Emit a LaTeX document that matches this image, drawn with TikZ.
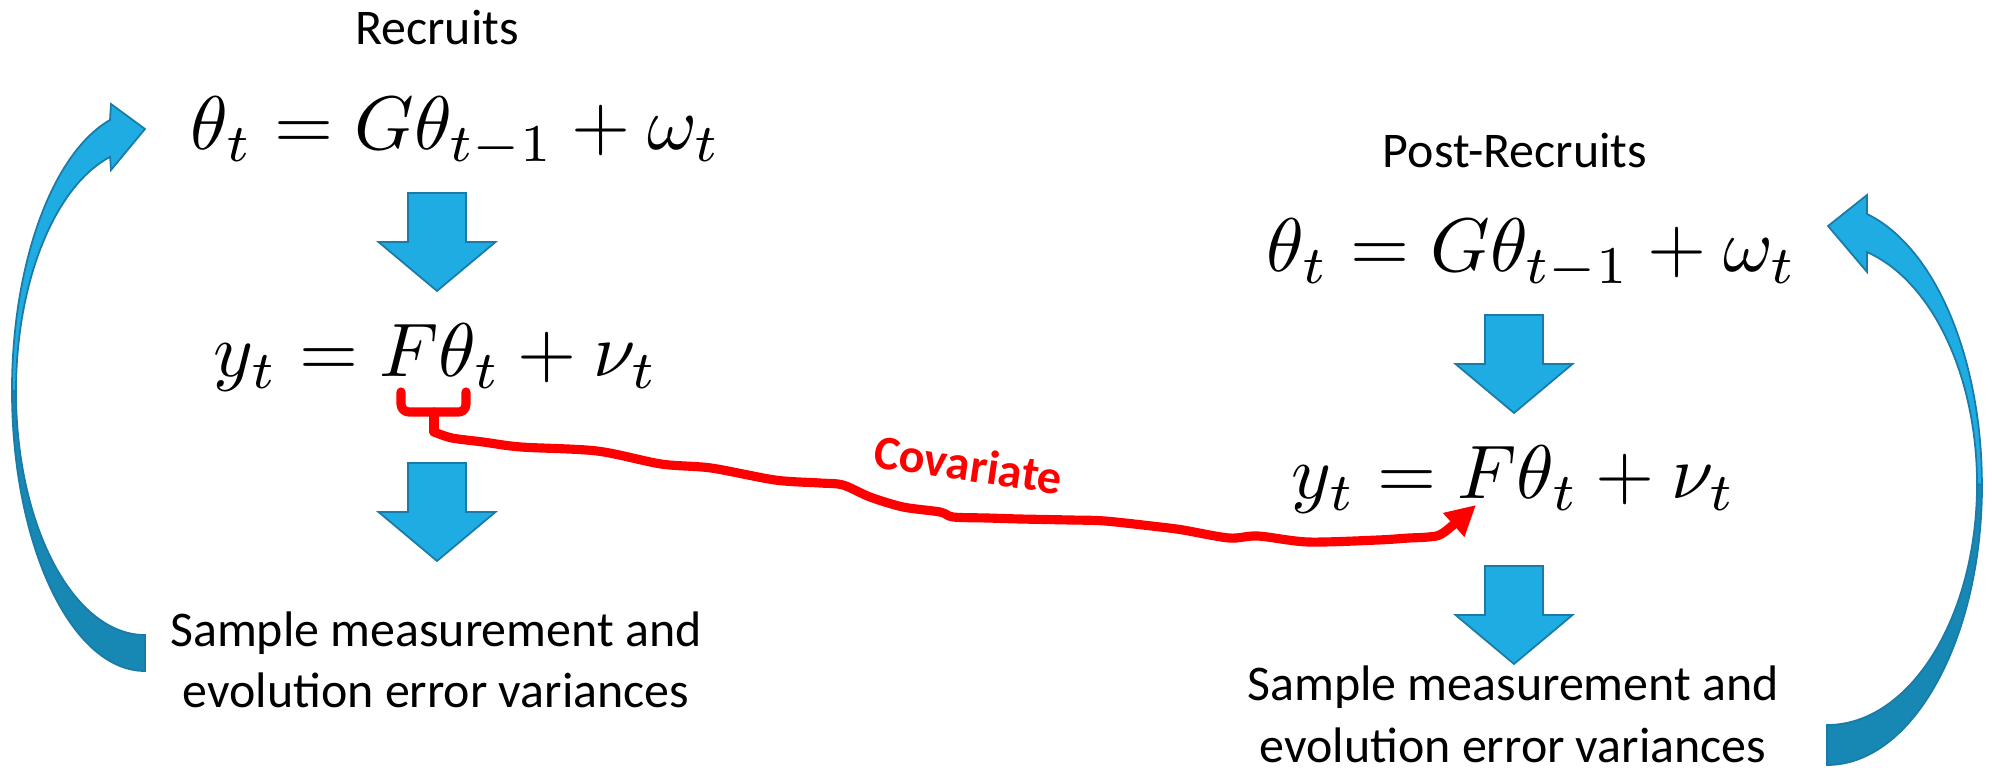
\documentclass[tikz,border=0pt]{standalone}
\usepackage[no-math]{fontspec}
\newfontfamily\calibri{Carlito}
\usetikzlibrary{arrows.meta}

\definecolor{skyblue}{HTML}{1FACE2}
\definecolor{deepblue}{HTML}{1787B3}
\definecolor{edgeblue}{HTML}{1A7BA8}

\begin{document}
\begin{tikzpicture}[
    x=0.01cm, y=-0.01cm, % one unit = one pixel of the slide, y runs downwards
    lbl/.style={font=\calibri\fontsize{14.2}{17.6}\selectfont, inner sep=0pt, anchor=base, align=center},
    eqn/.style={scale=2.16, transform shape, inner sep=0pt, anchor=base},
    blockdown/.pic={\filldraw[fill=skyblue, draw=edgeblue, line width=0.5pt]
        (-29,0) -- (29,0) -- (29,49) -- (58.5,49) -- (0,98) -- (-58.5,49) -- (-29,49) -- cycle;},
    covline/.style={red, line width=2.6pt, line cap=round, line join=round},
    loopfront/.style={fill=skyblue, draw=edgeblue, line width=0.5pt},
    loopback/.style={fill=deepblue, draw=edgeblue, line width=0.5pt}
]
    \useasboundingbox (0,0) rectangle (1992,777);

    % Recruits (left column)
    \node[lbl] (rec) at (437,45) {Recruits};
    \node[eqn] (stateL) at (456,150) {$\theta_t = G\theta_{t-1} + \omega_t$};
    \node[eqn] (obsL) at (436,377) {$y_t = F\theta_t + \nu_t$};
    \node[lbl] (sampL) at (436,708) {Sample measurement and\\evolution error variances};
    \pic (dL1) at (437,193) {blockdown};
    \pic (dL2) at (437,463) {blockdown};

    % Post-Recruits (right column)
    \node[lbl] (post) at (1515,168) {Post-Recruits};
    \node[eqn] (stateR) at (1532,272) {$\theta_t = G\theta_{t-1} + \omega_t$};
    \node[eqn] (obsR) at (1514,499) {$y_t = F\theta_t + \nu_t$};
    \node[lbl] (sampR) at (1513,762) {Sample measurement and\\evolution error variances};
    \pic (dR1) at (1514,315) {blockdown};
    \pic (dR2) at (1514,566) {blockdown};

    % loop arrows
    \filldraw[loopback] (12,390.6) arc[start angle=180, end angle=90, x radius=133, y radius=280.4]
        -- (145,635) arc[start angle=90, end angle=180, x radius=129, y radius=243.6] -- cycle;
    \filldraw[loopfront] (110,120) arc[start angle=254.75, end angle=180, x radius=133, y radius=280.4]
        -- (16,391.4) arc[start angle=180, end angle=254.3, x radius=129, y radius=243.6]
        -- (111,170) -- (145,129) -- (111,104) -- cycle;
    \filldraw[loopback] (1982,484.7) arc[start angle=0, end angle=90, x radius=155, y radius=280.3]
        -- (1827,725) arc[start angle=90, end angle=0, x radius=150, y radius=240.8] -- cycle;
    \filldraw[loopfront] (1867,214) arc[start angle=-75, end angle=0, x radius=155, y radius=280.3]
        -- (1977,484.2) arc[start angle=0, end angle=-74.5, x radius=150, y radius=240.8]
        -- (1867,272) -- (1828,226) -- (1867,195) -- cycle;

    % covariate link
    \coordinate (brk) at (434,432);
    \coordinate (covend) at (1476,505);
    \draw[covline] (401,392) -- (401,404) to[out=-90,in=180] (409,412) -- (459,412)
        to[out=0,in=-90] (466,404) -- (466,392);
    \draw[covline] (434,412) -- (brk);
    \draw[covline, -{Triangle[length=0.3cm, width=0.3cm]}] plot[smooth, tension=0.5] coordinates {
        (brk) (452,438) (483,442) (521,447) (597,451) (661,464) (711,468) (775,480) (820,483)
        (843,485) (870,497) (903,507) (940,512) (953,517) (987,518) (1020,519) (1070,520)
        (1105,521) (1160,527) (1183,530) (1229,538) (1258,536) (1308,542) (1378,540)
        (1409,538) (1428,537) (1443,533) (covend)};
    \node[red, font=\calibri\bfseries\fontsize{13.7}{16}\selectfont, inner sep=0pt, anchor=base,
        rotate=-8.3] (cov) at (966,481) {Covariate};
\end{tikzpicture}
\end{document}
